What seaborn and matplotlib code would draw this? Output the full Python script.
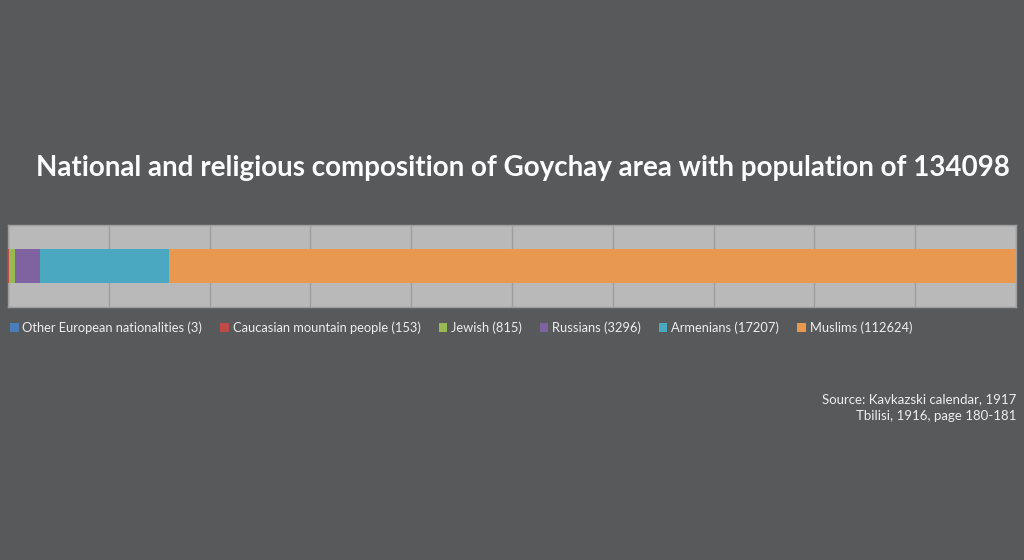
import matplotlib
matplotlib.use("Agg")
import matplotlib.pyplot as plt
import seaborn as sns
import numpy as np
from matplotlib.patches import Patch

groups = ["Other European nationalities", "Caucasian mountain people", "Jewish",
          "Russians", "Armenians", "Muslims"]
counts = [3, 153, 815, 3296, 17207, 112624]
colors = ["#4a7ebb", "#be4b48", "#98b954", "#7f63a1", "#4aa9c1", "#e8984f"]
total = 134098
title = "National and religious composition of Goychay area with population of 134098"
source_lines = ["Source: Kavkazski calendar, 1917", "Tbilisi, 1916, page 180-181"]

sns.set_theme(style="white")
plt.rcParams['font.family'] = ['Lato', 'DejaVu Sans']

bg = "#58595b"
fig = plt.figure(figsize=(10.24, 5.6), dpi=100, facecolor=bg)
ax = fig.add_axes([8/1024, 1 - 307/560, 1008/1024, 82/560])
ax.set_facecolor("#b9b9b9")

pct = np.array(counts) / total * 100
left = np.concatenate([[0], np.cumsum(pct)[:-1]])
for g, p, l, c in zip(groups, pct, left, colors):
    ax.barh([0], [p], left=[l], height=0.41, color=c, edgecolor="none", zorder=3)

ax.set_xlim(0, 100)
ax.set_ylim(-0.5, 0.5)
ax.set_xticks(np.arange(0, 101, 10))
ax.set_yticks([])
ax.grid(axis="x", color="#9e9e9e", linewidth=1, zorder=1)
ax.tick_params(axis="x", length=0, labelbottom=False)
for s in ax.spines.values():
    s.set_color("#9e9e9e")
    s.set_linewidth(1)

fig.text(522.5/1024, 1 - 168/560, title, ha="center", va="center",
         fontsize=20, fontweight="bold", color="white")

handles = [Patch(facecolor=c, edgecolor="none") for c in colors]
labels = [f"{g} ({n})" for g, n in zip(groups, counts)]
fig.legend(handles, labels, loc="center left", bbox_to_anchor=(5/1024, 1 - 328/560),
           ncol=6, frameon=False, fontsize=9.3, labelcolor="#eeeeee",
           handlelength=0.65, handleheight=0.65, handletextpad=0.3, columnspacing=1.4,
           borderaxespad=0)

fig.text(1016/1024, 1 - 399/560, source_lines[0], ha="right", va="center",
         fontsize=9.5, color="#eeeeee")
fig.text(1016/1024, 1 - 416/560, source_lines[1], ha="right", va="center",
         fontsize=9.5, color="#eeeeee")

fig.savefig("out.png", dpi=100, facecolor=bg)
